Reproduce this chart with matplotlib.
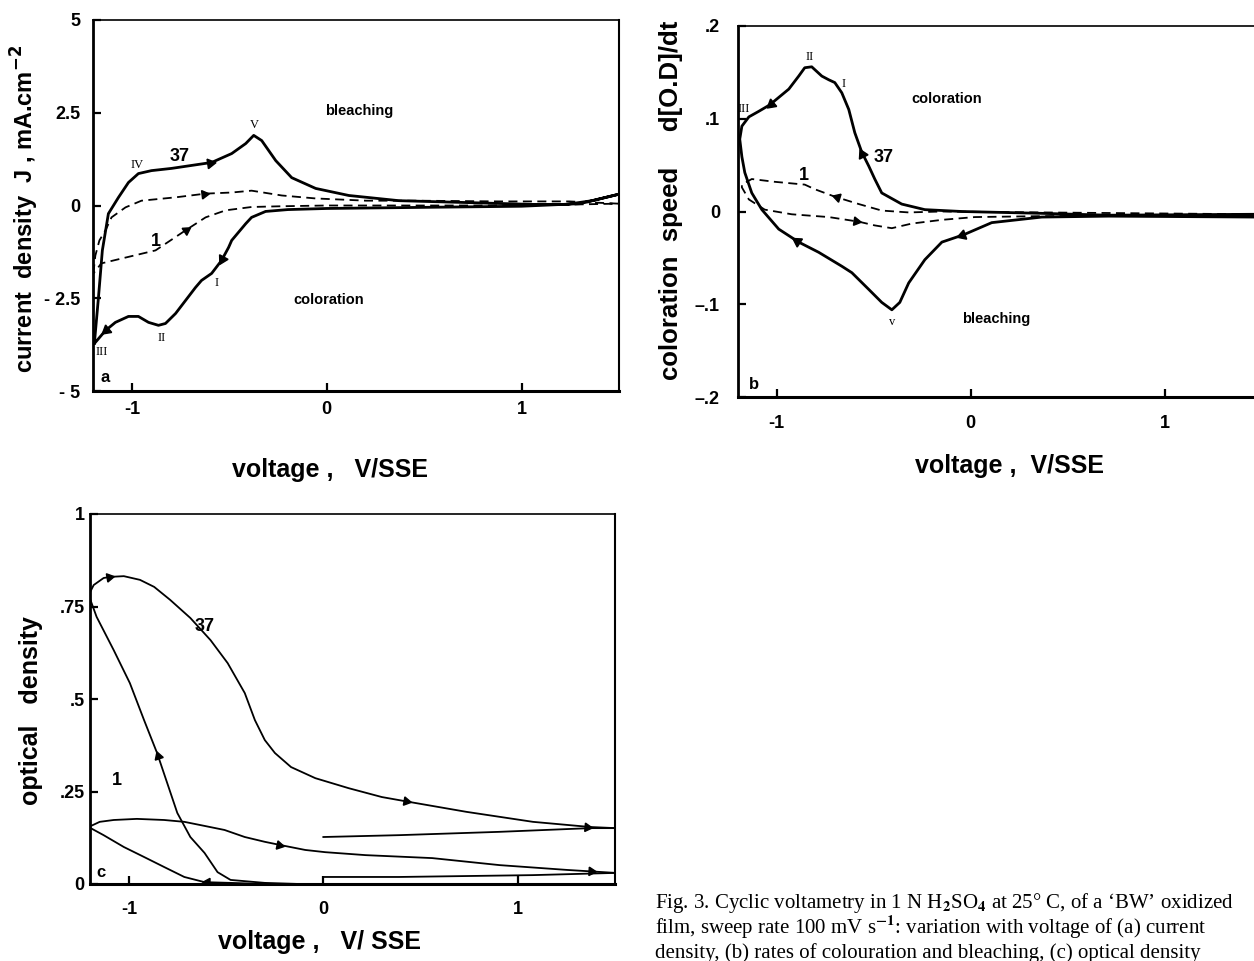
import numpy as np
import matplotlib
matplotlib.use('Agg')
import matplotlib.pyplot as plt

plt.rcParams['font.family'] = ['Liberation Sans', 'DejaVu Sans']
plt.rcParams['font.weight'] = 'bold'

# ---- (a) current density vs voltage ----
a37_v = [-1.193, -1.172, -1.152, -1.121, -1.069, -1.018, -0.967, -0.900, -0.797, -0.694, -0.591,
         -0.488, -0.416, -0.375, -0.334, -0.262, -0.180, -0.057, 0.113, 0.370, 0.715, 1.054, 1.229,
         1.362, 1.496,
         1.30, 1.00, 0.50, 0.0, -0.20, -0.314, -0.386, -0.416, -0.488, -0.504, -0.540, -0.591,
         -0.643, -0.674, -0.725, -0.776, -0.828, -0.864, -0.915, -0.967, -1.018, -1.085, -1.136, -1.188]
a37_j = [-3.72, -2.48, -1.21, -0.22, 0.22, 0.62, 0.86, 0.94, 1.00, 1.08, 1.16,
         1.40, 1.67, 1.89, 1.75, 1.21, 0.75, 0.46, 0.27, 0.13, 0.08, 0.03, 0.03,
         0.13, 0.30,
         0.05, -0.02, -0.05, -0.08, -0.11, -0.16, -0.32, -0.49, -0.94, -1.13, -1.48, -1.83,
         -2.02, -2.21, -2.56, -2.91, -3.18, -3.23, -3.15, -2.99, -2.99, -3.15, -3.37, -3.69]
a1_v = [-1.198, -1.188, -1.167, -1.136, -1.105, -1.033, -0.951, -0.776, -0.622, -0.488, -0.386,
        -0.231, -0.057, 0.201, 0.458, 0.884, 1.244, 1.496,
        1.20, 0.80, 0.40, 0.0, -0.231, -0.386, -0.519, -0.622, -0.725, -0.879, -1.054, -1.157, -1.198]
a1_j = [-1.83, -1.35, -0.94, -0.67, -0.32, -0.05, 0.13, 0.22, 0.32, 0.35, 0.40,
        0.27, 0.19, 0.13, 0.13, 0.11, 0.11, 0.05,
        0.02, 0.0, 0.0, 0.0, -0.02, -0.04, -0.13, -0.32, -0.67, -1.21, -1.43, -1.56, -1.83]

# ---- (b) coloration speed vs voltage ----
b37_v = [1.469, 0.711, 0.366, -0.046, -0.237, -0.356, -0.459, -0.495, -0.526, -0.562, -0.598,
         -0.629, -0.665, -0.701, -0.732, -0.768, -0.820, -0.856, -0.887, -0.938, -0.990, -1.036,
         -1.093, -1.144, -1.180, -1.191,
         -1.180, -1.165, -1.129, -1.077, -0.990, -0.887, -0.784, -0.665, -0.613, -0.526, -0.459,
         -0.407, -0.366, -0.320, -0.237, -0.149, -0.036, 0.108, 0.366, 0.711, 1.469]
b37_r = [-0.003, -0.004, -0.002, 0.000, 0.002, 0.008, 0.020, 0.035, 0.049, 0.064, 0.085,
         0.110, 0.128, 0.139, 0.142, 0.146, 0.156, 0.155, 0.146, 0.132, 0.123, 0.115,
         0.108, 0.102, 0.092, 0.078,
         0.059, 0.042, 0.020, 0.002, -0.019, -0.033, -0.044, -0.059, -0.066, -0.084, -0.098,
         -0.106, -0.098, -0.077, -0.052, -0.033, -0.025, -0.012, -0.006, -0.005, -0.006]
b1_v = [1.469, 0.366, -0.149, -0.320, -0.459, -0.577, -0.701, -0.804, -0.856, -1.010, -1.129, -1.180,
        -1.180, -1.144, -1.062, -0.923, -0.732, -0.577, -0.495, -0.407, -0.304, -0.149, 0.021,
        0.366, 1.469]
b1_r = [-0.003, -0.001, 0.000, -0.001, 0.001, 0.008, 0.016, 0.024, 0.029, 0.032, 0.035, 0.029,
        0.026, 0.013, 0.002, -0.003, -0.006, -0.011, -0.015, -0.018, -0.013, -0.009, -0.006,
        -0.005, -0.004]

# ---- (c) optical density vs voltage ----
c37_v = [-1.207, -1.181, -1.130, -1.098, -1.026, -0.943, -0.870, -0.788, -0.684, -0.580, -0.492,
         -0.404, -0.352, -0.301, -0.249, -0.166, -0.041, 0.130, 0.301, 0.440, 0.736, 1.078,
         1.373, 1.503]
c37_d = [0.781, 0.808, 0.827, 0.830, 0.832, 0.822, 0.803, 0.768, 0.719, 0.659, 0.597,
         0.516, 0.443, 0.389, 0.354, 0.316, 0.286, 0.259, 0.235, 0.222, 0.195, 0.168,
         0.154, 0.151]
c37_back1_v = [1.503, 1.373, 0.907, 0.389, 0.0]
c37_back1_d = [0.151, 0.151, 0.141, 0.132, 0.127]
c37_back2_v = [0.0, -0.301, -0.477, -0.544, -0.611, -0.684, -0.751, -0.803, -0.855, -0.922,
               -0.995, -1.078, -1.166, -1.207]
c37_back2_d = [-0.002, 0.003, 0.011, 0.032, 0.084, 0.127, 0.192, 0.273, 0.354, 0.443,
               0.543, 0.632, 0.722, 0.781]
c1_v = [-1.207, -1.150, -1.078, -0.959, -0.819, -0.715, -0.611, -0.508, -0.404, -0.301, -0.218,
        -0.093, 0.010, 0.218, 0.560, 0.907, 1.254, 1.503]
c1_d = [0.154, 0.168, 0.173, 0.176, 0.173, 0.168, 0.157, 0.146, 0.127, 0.114, 0.105,
        0.092, 0.086, 0.078, 0.070, 0.051, 0.038, 0.030]
c1_back1_v = [1.503, 1.078, 0.389, 0.0]
c1_back1_d = [0.030, 0.024, 0.019, 0.019]
c1_back2_v = [0.0, -0.301, -0.477, -0.611, -0.715, -0.819, -0.922, -1.026, -1.130, -1.207]
c1_back2_d = [0.0, 0.0, 0.003, 0.005, 0.019, 0.046, 0.073, 0.100, 0.132, 0.154]

xticks = [-1, 0, 1]
xticklabels = ['-1', '0', '1']
a_yticks = [-5, -2.5, 0, 2.5, 5]
a_yticklabels = ['- 5', '- 2.5', '0', '2.5', '5']
b_yticks = [-0.2, -0.1, 0, 0.1, 0.2]
b_yticklabels = ['\u2013.2', '\u2013.1', '0', '.1', '.2']
c_yticks = [0, 0.25, 0.5, 0.75, 1]
c_yticklabels = ['0', '.25', '.5', '.75', '1']

W, H = 1254, 961
fig = plt.figure(figsize=(W / 100, H / 100), dpi=100)


def px_axes(l, t, r, b):
    return fig.add_axes([l / W, 1 - b / H, (r - l) / W, (b - t) / H])


def style(ax, pad_y, pad_x):
    for s, w in zip(['left', 'bottom', 'top', 'right'], [2.0, 2.2, 1.2, 1.5]):
        ax.spines[s].set_linewidth(w)
    ax.tick_params(direction='in', length=6, width=1.6, labelsize=13)
    ax.tick_params(axis='y', pad=pad_y)
    ax.tick_params(axis='x', pad=pad_x)
    for lab in ax.get_xticklabels() + ax.get_yticklabels():
        lab.set_fontweight('bold')


def arrow(ax, xs, ys, k, t=0.9, rev=False, size=8):
    p0 = ax.transData.transform((xs[k], ys[k]))
    p1 = ax.transData.transform((xs[k + 1], ys[k + 1]))
    d = p1 - p0
    if rev:
        d = -d
    ang = np.degrees(np.arctan2(d[1], d[0])) - 90
    hx = xs[k] + t * (xs[k + 1] - xs[k])
    hy = ys[k] + t * (ys[k + 1] - ys[k])
    ax.plot([hx], [hy], marker=(3, 0, ang), color='k', markersize=size, zorder=5)


serif = ['Liberation Serif', 'DejaVu Serif']

# ---------------- panel a ----------------
axa = px_axes(93, 20, 619, 391)
axa.set_xlim(-1.2, 1.5)
axa.set_ylim(-5, 5)
axa.plot(a37_v, a37_j, color='k', lw=2.0)
axa.plot(a1_v, a1_j, color='k', lw=1.3, ls=(0, (5, 3)))
axa.set_xticks(xticks, xticklabels)
axa.set_yticks(a_yticks, a_yticklabels)
style(axa, 9, 7)
axa.set_ylabel('current  density  J , mA.cm$^{\\mathbf{-2}}$', fontsize=17,
               fontweight='bold', math_fontfamily='dejavusans')
axa.yaxis.set_label_coords(-0.099, 0.49)
axa.set_xlabel('voltage ,   V/SSE', fontsize=18, fontweight='bold')
axa.xaxis.set_label_coords(0.45, -0.181)
arrow(axa, a37_v, a37_j, 9)
arrow(axa, a37_v, a37_j, 34)
arrow(axa, a37_v, a37_j, 46)
arrow(axa, a1_v, a1_j, 7, t=0.95, size=7)
arrow(axa, a1_v, a1_j, 26, t=0.0, rev=True, size=7)
axa.text(0.165, 2.56, 'bleaching', fontsize=10.5, fontweight='bold', ha='center', va='center')
axa.text(0.01, -2.56, 'coloration', fontsize=10.5, fontweight='bold', ha='center', va='center')
axa.text(-0.756, 1.32, '37', fontsize=13, fontweight='bold', ha='center', va='center')
axa.text(-0.879, -0.97, '1', fontsize=13, fontweight='bold', ha='center', va='center')
for s, x, y in [('IV', -0.972, 1.08), ('V', -0.370, 2.18), ('I', -0.566, -2.08),
                ('II', -0.848, -3.58), ('III', -1.157, -3.96)]:
    axa.text(x, y, s, family=serif, fontweight='normal', fontsize=9, ha='center', va='center')
axa.text(-1.136, -4.64, 'a', fontsize=12, fontweight='bold', ha='center', va='center')

# ---------------- panel b ----------------
axb = px_axes(738, 26, 738 + 2.7 * 194, 397)
axb.set_xlim(-1.2, 1.5)
axb.set_ylim(-0.2, 0.2)
axb.plot(b37_v, b37_r, color='k', lw=2.0)
axb.plot(b1_v, b1_r, color='k', lw=1.3, ls=(0, (5, 3)))
axb.set_xticks(xticks, xticklabels)
axb.set_yticks(b_yticks, b_yticklabels)
style(axb, 13, 13)
axb.set_ylabel('coloration  speed     d[O.D]/dt', fontsize=18.5, fontweight='bold')
axb.yaxis.set_label_coords(-0.105, 0.53)
axb.set_xlabel('voltage ,  V/SSE', fontsize=18, fontweight='bold')
axb.xaxis.set_label_coords(0.519, -0.154)
arrow(axb, b37_v, b37_r, 8)
arrow(axb, b37_v, b37_r, 20)
arrow(axb, b37_v, b37_r, 30, rev=True)
arrow(axb, b37_v, b37_r, 41, rev=True)
arrow(axb, b1_v, b1_r, 5, size=7)
arrow(axb, b1_v, b1_r, 16, size=7)
axb.text(-0.124, 0.121, 'coloration', fontsize=10.5, fontweight='bold', ha='center', va='center')
axb.text(0.129, -0.116, 'bleaching', fontsize=10.5, fontweight='bold', ha='center', va='center')
axb.text(-0.448, 0.058, '37', fontsize=13, fontweight='bold', ha='center', va='center')
axb.text(-0.861, 0.039, '1', fontsize=13, fontweight='bold', ha='center', va='center')
for s, x, y in [('II', -0.830, 0.167), ('I', -0.655, 0.138), ('III', -1.170, 0.110),
                ('v', -0.407, -0.119)]:
    axb.text(x, y, s, family=serif, fontweight='normal', fontsize=9, ha='center', va='center')
axb.text(-1.119, -0.187, 'b', fontsize=12, fontweight='bold', ha='center', va='center')

# ---------------- panel c ----------------
axc = px_axes(90, 514, 615, 884)
axc.set_xlim(-1.2, 1.5)
axc.set_ylim(0, 1)
for xs, ys in [(c37_v, c37_d), (c37_back1_v, c37_back1_d), (c37_back2_v, c37_back2_d),
               (c1_v, c1_d), (c1_back1_v, c1_back1_d), (c1_back2_v, c1_back2_d)]:
    axc.plot(xs, ys, color='k', lw=1.3)
axc.set_xticks(xticks, xticklabels)
axc.set_yticks(c_yticks, c_yticklabels)
style(axc, 4, 12)
axc.set_ylabel('optical   density', fontsize=18, fontweight='bold')
axc.yaxis.set_label_coords(-0.09, 0.47)
axc.set_xlabel('voltage ,   V/ SSE', fontsize=18, fontweight='bold')
axc.xaxis.set_label_coords(0.438, -0.124)
arrow(axc, c37_v, c37_d, 2, size=7)
arrow(axc, c37_v, c37_d, 18, size=7)
arrow(axc, c37_v, c37_d, 21, t=0.95, size=7)
arrow(axc, c37_back2_v, c37_back2_d, 7, size=7)
arrow(axc, c1_v, c1_d, 9, size=7)
arrow(axc, c1_v, c1_d, 16, t=0.5, size=7)
arrow(axc, c1_back2_v, c1_back2_d, 2, size=7)
axc.text(-0.611, 0.695, '37', fontsize=13, fontweight='bold', ha='center', va='center')
axc.text(-1.062, 0.281, '1', fontsize=13, fontweight='bold', ha='center', va='center')
axc.text(-1.145, 0.030, 'c', fontsize=12, fontweight='bold', ha='center', va='center')

# ---------------- caption ----------------
cap = ["Fig. 3. Cyclic voltametry in 1 N H$_2$SO$_4$ at 25\u00b0 C, of a \u2018BW\u2019 oxidized",
       "film, sweep rate 100 mV s$^{-1}$: variation with voltage of (a) current",
       "density, (b) rates of colouration and bleaching, (c) optical density"]
for line, yb in zip(cap, [908, 934, 958]):
    fig.text(655 / W, 1 - yb / H, line, family=serif, fontweight='normal', fontsize=15,
             va='baseline', ha='left', math_fontfamily='stix')

fig.savefig('out.png', dpi=100, facecolor='white')
